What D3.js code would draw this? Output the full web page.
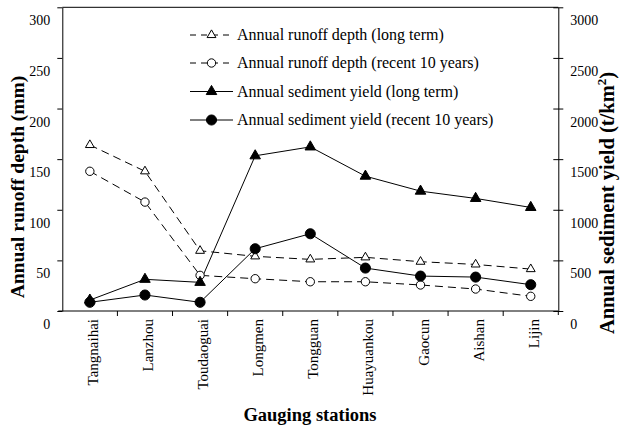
<!DOCTYPE html>
<html>
<head>
<meta charset="utf-8">
<script src="https://cdn.jsdelivr.net/npm/d3@7"></script>
<style>
  html, body { margin: 0; padding: 0; background: #fff; }
  svg { display: block; }
  svg text { font-family: 'Liberation Serif', 'Times New Roman', serif !important; fill: #000; }
</style>
</head>
<body>
<svg id="chart" width="621" height="427"></svg>
<script>
// ---- data ----
const stations = ["Tangnaihai", "Lanzhou", "Toudaoguai", "Longmen", "Tongguan", "Huayuankou", "Gaocun", "Aishan", "Lijin"];
const runoffLong   = [164, 138, 59.5, 54, 51, 53, 48.7, 46, 41.4];
const runoffRecent = [138, 107.6, 35.2, 31.9, 28.9, 28.9, 25.7, 21.7, 14.5];
const sedLong      = [108, 313, 283, 1533, 1621, 1332, 1184, 1112, 1023];
const sedRecent    = [86, 158, 86, 615, 763, 424, 345, 335, 260];
const leftTicks  = [0, 50, 100, 150, 200, 250, 300];
const rightTicks = [0, 500, 1000, 1500, 2000, 2500, 3000];
const legendLabels = [
  "Annual runoff depth (long term)",
  "Annual runoff depth (recent 10 years)",
  "Annual sediment yield (long term)",
  "Annual sediment yield (recent 10 years)"
];

// ---- layout ----
const svg = d3.select("#chart");
const L = 62.3, R = 558.3, T = 7.3, B = 311;
const SERIF = "'Liberation Serif', 'Times New Roman', serif";

const x = d3.scaleBand().domain(stations).range([L, R]);
const yL = d3.scaleLinear().domain([0, 300]).range([B, T]);
const yR = d3.scaleLinear().domain([0, 3000]).range([B, T]);

// frame top line
svg.append("line").attr("x1", L).attr("x2", R).attr("y1", T).attr("y2", T)
  .attr("stroke", "#000").attr("stroke-width", 1);

// left axis
const gL = svg.append("g").attr("transform", `translate(${L},0)`)
  .call(d3.axisLeft(yL).tickValues(leftTicks).tickFormat(d3.format("d"))
    .tickSizeInner(5).tickSizeOuter(0).tickPadding(7));
gL.attr("font-family", SERIF).attr("font-size", 14);
gL.select(".domain").attr("stroke", "#000");
gL.selectAll("text").attr("y", 13);

// right axis
const gR = svg.append("g").attr("transform", `translate(${R},0)`)
  .call(d3.axisRight(yR).tickValues(rightTicks).tickFormat(d3.format("d"))
    .tickSizeInner(5).tickSizeOuter(0).tickPadding(7));
gR.attr("font-family", SERIF).attr("font-size", 14);
gR.select(".domain").attr("stroke", "#000");
gR.selectAll(".tick line").attr("x1", -5);
gR.selectAll("text").attr("y", 13);
svg.append("line").attr("x1", R).attr("x2", R).attr("y1", B).attr("y2", B + 4).attr("stroke", "#000");

// x axis
svg.append("line").attr("x1", L - 4).attr("x2", R).attr("y1", B).attr("y2", B).attr("stroke", "#000");
const boundaries = stations.slice(1).map(s => x(s));
svg.selectAll(".xtick").data(boundaries).enter().append("line")
  .attr("x1", d => d).attr("x2", d => d).attr("y1", B).attr("y2", B + 5).attr("stroke", "#000");
svg.selectAll(".xlab").data(stations).enter().append("text")
  .attr("transform", d => `translate(${x(d) + x.bandwidth() / 2},${B})rotate(-90)`)
  .attr("x", -8).attr("y", 8)
  .attr("text-anchor", "end")
  .attr("font-family", SERIF)
  .attr("font-size", 15)
  .text(d => d);

// axis titles
svg.append("text").attr("transform", `translate(24,187)rotate(-90)`)
  .attr("text-anchor", "middle").attr("font-family", SERIF).attr("font-size", 19.5).attr("font-weight", "bold")
  .text("Annual runoff depth (mm)");
const rt = svg.append("text").attr("transform", `translate(614,203)rotate(-90)`)
  .attr("text-anchor", "middle").attr("font-family", SERIF).attr("font-size", 20.5).attr("font-weight", "bold");
rt.append("tspan").text("Annual sediment yield (t/km");
rt.append("tspan").attr("dy", -8).attr("font-size", 13).text("2");
rt.append("tspan").attr("dy", 8).text(")");
svg.append("text").attr("x", 310).attr("y", 421)
  .attr("text-anchor", "middle").attr("font-family", SERIF).attr("font-size", 18.5).attr("font-weight", "bold")
  .text("Gauging stations");

// ---- series ----
const cx = d => x(d) + x.bandwidth() / 2;
const series = [
  { vals: runoffLong,   y: yL, dash: "8,5", sym: d3.symbolTriangle, size: 34, fill: "#fff" },
  { vals: runoffRecent, y: yL, dash: "8,5", sym: d3.symbolCircle,   size: 55, fill: "#fff" },
  { vals: sedLong,      y: yR, dash: null,  sym: d3.symbolTriangle, size: 48, fill: "#000" },
  { vals: sedRecent,    y: yR, dash: null,  sym: d3.symbolCircle,   size: 80, fill: "#000" }
];

series.forEach(s => {
  const line = d3.line().x((v, i) => cx(stations[i])).y(v => s.y(v));
  svg.append("path").datum(s.vals).attr("d", line)
    .attr("fill", "none").attr("stroke", "#000").attr("stroke-width", 1)
    .attr("stroke-dasharray", s.dash);
});
series.forEach(s => {
  svg.append("g").selectAll("path").data(s.vals).enter().append("path")
    .attr("transform", (v, i) => `translate(${cx(stations[i])},${s.y(v)})`)
    .attr("d", d3.symbol().type(s.sym).size(s.size))
    .attr("fill", s.fill).attr("stroke", "#000").attr("stroke-width", 1);
});

// ---- legend ----
const legY = [35, 63, 91.5, 120];
const lg = svg.append("g");
series.forEach((s, i) => {
  const yy = legY[i];
  lg.append("line").attr("x1", 190).attr("x2", 233).attr("y1", yy).attr("y2", yy)
    .attr("stroke", "#000").attr("stroke-width", 1).attr("stroke-dasharray", s.dash ? "6,5" : null);
  lg.append("path").attr("transform", `translate(211.5,${yy})`)
    .attr("d", d3.symbol().type(s.sym).size(s.size))
    .attr("fill", s.fill).attr("stroke", "#000");
  lg.append("text").attr("x", 237).attr("y", yy).attr("dy", "0.33em")
    .attr("font-family", SERIF).attr("font-size", 16).text(legendLabels[i]);
});
</script>
</body>
</html>
